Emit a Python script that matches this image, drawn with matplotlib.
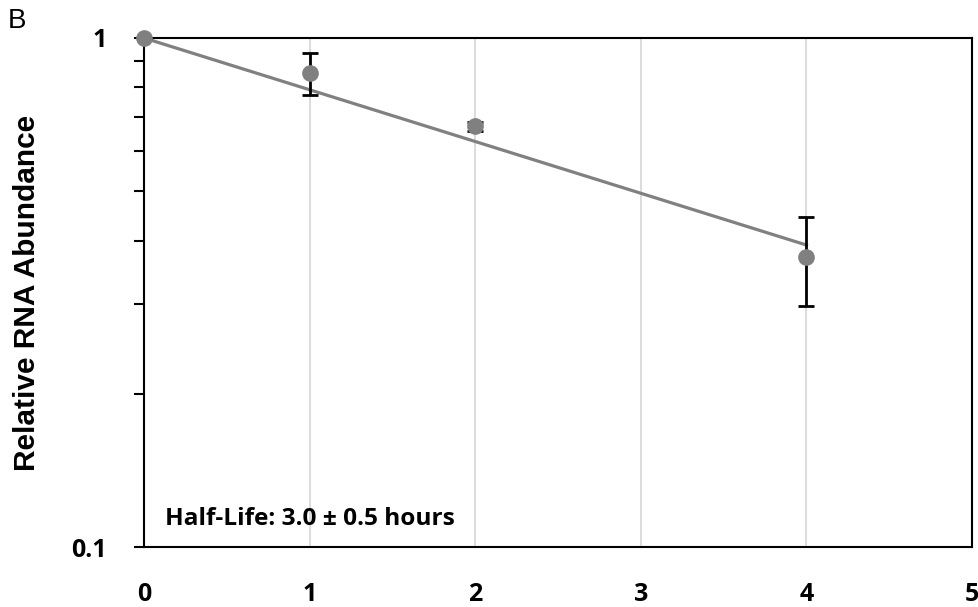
import numpy as np
import matplotlib
matplotlib.use("Agg")
import matplotlib.pyplot as plt
from matplotlib.ticker import FixedLocator, NullFormatter

# 数据
time_h = [0, 1, 2, 4]
abundance = [1.0, 0.853, 0.671, 0.371]
abundance_err = [0.0, 0.082, 0.013, 0.073]

# 指数拟合线（对数坐标下为直线，两端点即可）
fit_x = [0, 4]
fit_y = [1.0, 0.392]

x_ticks = [0, 1, 2, 3, 4, 5]
y_major = [0.1, 1]
y_minor = [0.2, 0.3, 0.4, 0.5, 0.6, 0.7, 0.8, 0.9]
half_life_text = "Half-Life: 3.0 ± 0.5 hours"

tick_font = "Open Sans"
label_font = "Liberation Sans"

fig = plt.figure(figsize=(9.79, 6.07), dpi=100)
ax = fig.add_axes([0.1471, 0.0988, 0.8458, 0.8386])

# 网格线
for xv in x_ticks[1:-1]:
    ax.axvline(xv, color="#d9d9d9", linewidth=1.3, zorder=0)

ax.plot(fit_x, fit_y, color="#808080", linewidth=2.3, zorder=2, clip_on=False)
ax.errorbar(time_h, abundance, yerr=abundance_err, fmt="none", ecolor="black",
            elinewidth=2, capsize=5.5, capthick=2, zorder=3)
ax.plot(time_h, abundance, "o", color="#808080", markersize=11, zorder=4, clip_on=False)

ax.set_yscale("log")
ax.set_xlim(0, 5)
ax.set_ylim(0.1, 1)

ax.set_xticks(x_ticks)
ax.set_xticklabels([str(v) for v in x_ticks], fontsize=18, fontweight="bold", family=tick_font)
ax.tick_params(axis="x", length=0, pad=25)

ax.yaxis.set_major_locator(FixedLocator(y_major))
ax.yaxis.set_minor_locator(FixedLocator(y_minor))
ax.yaxis.set_minor_formatter(NullFormatter())
ax.set_yticklabels(["0.1", "1"], fontsize=18, fontweight="bold", family=tick_font)
ax.tick_params(axis="y", which="both", length=7, width=1.5, direction="out", pad=20)

for sp in ax.spines.values():
    sp.set_linewidth(1.5)
    sp.set_color("black")

ax.set_ylabel("Relative RNA Abundance", fontsize=21.5, fontweight="bold",
              family=label_font)
ax.yaxis.set_label_coords(-0.125, 0.5)

ax.text(0.025, 0.055, half_life_text, transform=ax.transAxes, fontsize=17.6,
        fontweight="bold", family=tick_font, va="center", ha="left")

fig.text(0.008, 0.965, "B", fontsize=20, family=label_font, va="center", ha="left")

fig.savefig("out.png", dpi=100)
plt.close(fig)
